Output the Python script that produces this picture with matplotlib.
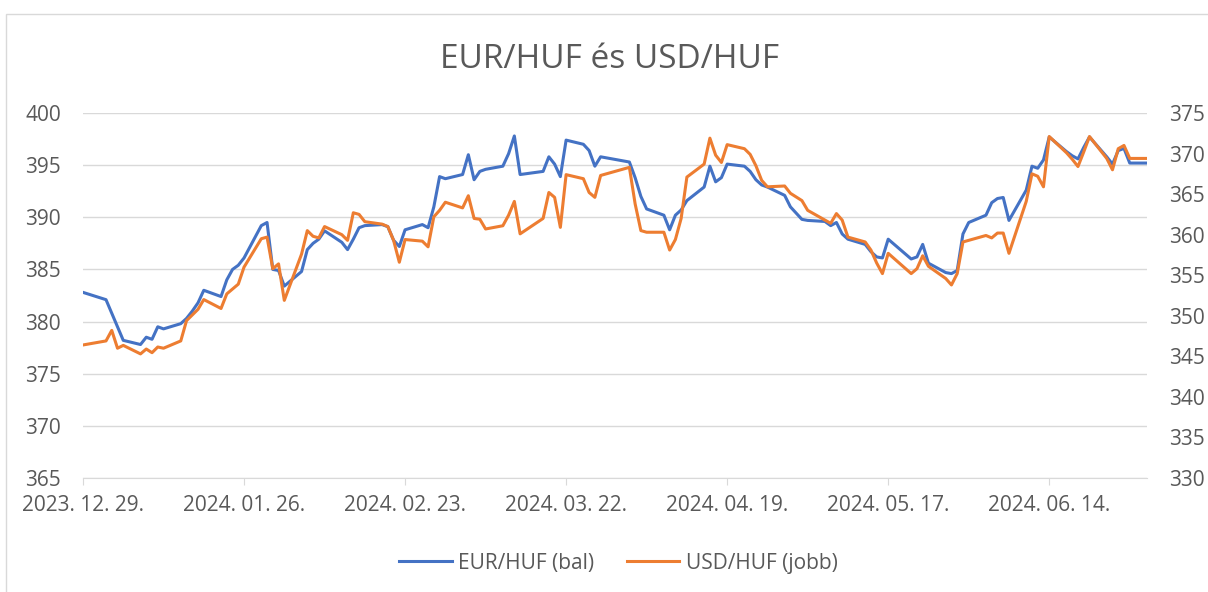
import numpy as np
import pandas as pd
import matplotlib
matplotlib.use("Agg")
import matplotlib.pyplot as plt
import matplotlib.dates as mdates
from matplotlib.patches import Rectangle

plt.rcParams['font.family'] = ['Open Sans', 'DejaVu Sans']

# napi árfolyamok (munkanapok)
dates = [
    "2023-12-29", "2024-01-02", "2024-01-03", "2024-01-04", "2024-01-05",
    "2024-01-08", "2024-01-09", "2024-01-10", "2024-01-11", "2024-01-12",
    "2024-01-15", "2024-01-16", "2024-01-17", "2024-01-18", "2024-01-19",
    "2024-01-22", "2024-01-23", "2024-01-24", "2024-01-25", "2024-01-26",
    "2024-01-29", "2024-01-30", "2024-01-31", "2024-02-01", "2024-02-02",
    "2024-02-05", "2024-02-06", "2024-02-07", "2024-02-08", "2024-02-09",
    "2024-02-12", "2024-02-13", "2024-02-14", "2024-02-15", "2024-02-16",
    "2024-02-19", "2024-02-20", "2024-02-21", "2024-02-22", "2024-02-23",
    "2024-02-26", "2024-02-27", "2024-02-28", "2024-02-29", "2024-03-01",
    "2024-03-04", "2024-03-05", "2024-03-06", "2024-03-07", "2024-03-08",
    "2024-03-11", "2024-03-12", "2024-03-13", "2024-03-14",
    "2024-03-18", "2024-03-19", "2024-03-20", "2024-03-21", "2024-03-22",
    "2024-03-25", "2024-03-26", "2024-03-27", "2024-03-28",
    "2024-04-02", "2024-04-03", "2024-04-04", "2024-04-05",
    "2024-04-08", "2024-04-09", "2024-04-10", "2024-04-11", "2024-04-12",
    "2024-04-15", "2024-04-16", "2024-04-17", "2024-04-18", "2024-04-19",
    "2024-04-22", "2024-04-23", "2024-04-24", "2024-04-25", "2024-04-26",
    "2024-04-29", "2024-04-30", "2024-05-02", "2024-05-03",
    "2024-05-06", "2024-05-07", "2024-05-08", "2024-05-09", "2024-05-10",
    "2024-05-13", "2024-05-14", "2024-05-15", "2024-05-16", "2024-05-17",
    "2024-05-21", "2024-05-22", "2024-05-23", "2024-05-24",
    "2024-05-27", "2024-05-28", "2024-05-29", "2024-05-30", "2024-05-31",
    "2024-06-03", "2024-06-04", "2024-06-05", "2024-06-06", "2024-06-07",
    "2024-06-10", "2024-06-11", "2024-06-12", "2024-06-13", "2024-06-14",
    "2024-06-17", "2024-06-18", "2024-06-19", "2024-06-20", "2024-06-21",
    "2024-06-24", "2024-06-25", "2024-06-26", "2024-06-27", "2024-06-28",
    "2024-07-01",
]

eurhuf = [
    382.8, 382.1, 380.8, 379.5, 378.2,
    377.8, 378.5, 378.3, 379.5, 379.3,
    379.8, 380.3, 381.0, 381.8, 383.0,
    382.4, 384.0, 385.0, 385.4, 386.1,
    389.2, 389.5, 385.0, 384.9, 383.4,
    384.8, 386.9, 387.5, 387.9, 388.7,
    387.6, 386.9, 387.9, 389.0, 389.2,
    389.3, 389.1, 387.8, 387.2, 388.8,
    389.3, 389.0, 391.0, 393.9, 393.7,
    394.1, 396.0, 393.6, 394.4, 394.6,
    394.9, 396.1, 397.8, 394.1,
    394.4, 395.8, 395.1, 393.9, 397.4,
    397.0, 396.4, 394.9, 395.8,
    395.3, 393.8, 392.0, 390.8,
    390.2, 388.8, 390.2, 390.7, 391.6,
    392.9, 394.9, 393.4, 393.8, 395.1,
    394.9, 394.4, 393.6, 393.1, 392.9,
    392.1, 391.0, 389.8, 389.7,
    389.6, 389.2, 389.5, 388.4, 387.9,
    387.4, 386.7, 386.2, 386.1, 387.9,
    386.0, 386.2, 387.4, 385.6,
    384.7, 384.6, 384.9, 388.4, 389.5,
    390.2, 391.4, 391.8, 391.9, 389.7,
    392.6, 394.9, 394.7, 395.5, 397.7,
    396.3, 395.9, 395.6, 396.7, 397.7,
    395.8, 395.1, 396.4, 396.6, 395.2,
    395.2,
]

usdhuf = [
    346.4, 346.9, 348.2, 346.0, 346.35,
    345.3, 345.9, 345.45, 346.15, 346.0,
    346.9, 349.4, 350.1, 350.8, 352.0,
    350.9, 352.7, 353.3, 353.9, 356.0,
    359.5, 359.7, 355.8, 356.4, 351.9,
    357.6, 360.5, 359.8, 359.6, 361.0,
    360.0, 359.3, 362.7, 362.5, 361.6,
    361.3, 361.0, 359.3, 356.6, 359.4,
    359.2, 358.5, 362.2, 363.0, 364.0,
    363.3, 364.8, 362.0, 361.9, 360.7,
    361.1, 362.4, 364.1, 360.1,
    362.0, 365.2, 364.6, 360.9, 367.4,
    366.9, 365.2, 364.6, 367.3,
    368.3, 363.8, 360.5, 360.3,
    360.3, 358.1, 359.4, 362.0, 367.1,
    368.7, 371.9, 369.8, 368.9, 371.1,
    370.6, 369.9, 368.5, 366.7, 365.9,
    366.0, 365.1, 364.2, 363.0,
    361.8, 361.4, 362.6, 361.8, 359.7,
    359.1, 358.1, 356.5, 355.2, 357.7,
    355.2, 355.8, 357.4, 356.1,
    354.6, 353.8, 355.2, 359.1, 359.3,
    359.9, 359.6, 360.2, 360.2, 357.7,
    364.1, 367.5, 367.2, 365.9, 372.1,
    370.1, 369.3, 368.4, 370.2, 372.1,
    369.4, 368.0, 370.6, 371.0, 369.4,
    369.4,
]

x = pd.to_datetime(dates)
grey = '#595959'
grid = '#D9D9D9'

fig = plt.figure(figsize=(12.08, 5.92), dpi=100)
ax = fig.add_axes([83 / 1208, 1 - 478 / 592, (1147 - 83) / 1208, (478 - 113) / 592])
ax2 = ax.twinx()

l1, = ax.plot(x, eurhuf, color='#4472C4', lw=2.2, label='EUR/HUF (bal)', zorder=3)
l2, = ax2.plot(x, usdhuf, color='#ED7D31', lw=2.2, label='USD/HUF (jobb)', zorder=3)

ax.set_ylim(365, 400)
ax.set_yticks(np.arange(365, 401, 5))
ax2.set_ylim(330, 375)
ax2.set_yticks(np.arange(330, 376, 5))
ax.set_xlim(x[0], x[-1])

ticks = pd.date_range("2023-12-29", "2024-07-01", freq="28D")
ax.set_xticks(ticks)
ax.xaxis.set_major_formatter(mdates.DateFormatter('%Y. %m. %d.'))

ax.grid(axis='y', color=grid, lw=1)
ax.set_axisbelow(True)
for a in (ax, ax2):
    for s in a.spines.values():
        s.set_visible(False)
ax.spines['bottom'].set_visible(True)
ax.spines['bottom'].set_color(grid)

ax.tick_params(axis='y', length=0, pad=16, labelsize=15, labelcolor=grey)
ax2.tick_params(axis='y', length=0, pad=16, labelsize=15, labelcolor=grey)
ax.tick_params(axis='x', length=5, color=grid, pad=7, labelsize=15, labelcolor=grey)

fig.text(0.505, 1 - 60 / 592, 'EUR/HUF és USD/HUF', ha='center', va='center',
         fontsize=24, color=grey)

fig.legend(handles=[l1, l2], loc='center', bbox_to_anchor=(0.512, 1 - 563 / 592),
           ncol=2, frameon=False, fontsize=15, labelcolor=grey,
           handlelength=2.5, handletextpad=0.3, columnspacing=1.6)

fig.patches.append(Rectangle((6 / 1208, -0.1), 1.2, 1 - 14 / 592 + 0.1,
                             transform=fig.transFigure, fill=False,
                             edgecolor=grid, lw=1))

fig.savefig('out.png', dpi=100)
